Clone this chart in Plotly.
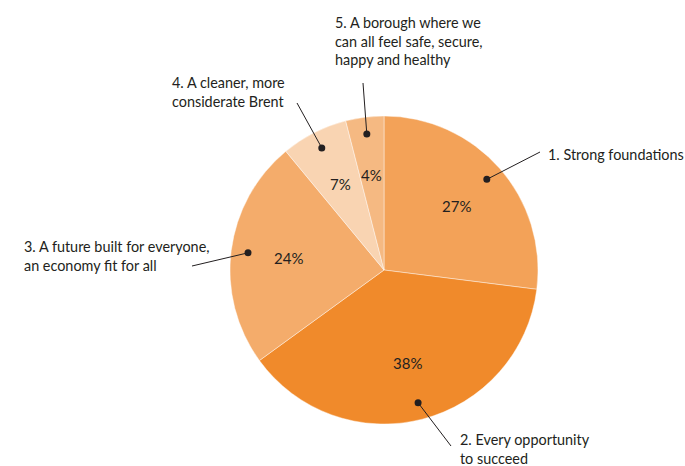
import math
import plotly.graph_objects as go

labels = [
    "1. Strong foundations",
    "2. Every opportunity<br>to succeed",
    "3. A future built for everyone,<br>an economy fit for all",
    "4. A cleaner, more<br>considerate Brent",
    "5. A borough where we<br>can all feel safe, secure,<br>happy and healthy",
]
values = [27, 38, 24, 7, 4]
colors = ["#F3A258", "#F08A2B", "#F4AC6B", "#F9D4B2", "#F5B982"]

W, H = 685, 466
CX, CY, R = 384, 270, 154
FONT = "Lato"

fig = go.Figure(go.Pie(
    values=values,
    labels=[l.replace("<br>", " ") for l in labels],
    sort=False,
    direction="clockwise",
    rotation=0,
    marker=dict(colors=colors, line=dict(color="rgba(255,255,255,0.6)", width=0.7)),
    textinfo="none",
    domain=dict(x=[(CX - R) / W, (CX + R) / W], y=[(H - CY - R) / H, (H - CY + R) / H]),
    showlegend=False,
    hoverinfo="skip",
))

# label text anchors (pixel, left edge, vertical center) and leader line start points
label_pos = [(546, 155), (458, 449), (22, 256), (170, 92), (333, 41)]
line_start = [(540, 152), (451, 446), (192, 266), (297, 103), (363, 83)]

def px(x):
    return x / W

def py(y):
    return 1 - y / H

shapes = []
annotations = []
total = sum(values)
cum = 0
for i, v in enumerate(values):
    mid = (cum + v / 2) / total * 2 * math.pi
    cum += v
    # dot on leader line
    dx = CX + 0.89 * R * math.sin(mid)
    dy = CY - 0.89 * R * math.cos(mid)
    sx, sy = line_start[i]
    shapes.append(dict(type="line", xref="paper", yref="paper",
                       x0=px(sx), y0=py(sy), x1=px(dx), y1=py(dy),
                       line=dict(color="#231F20", width=1)))
    rr = 3.5
    shapes.append(dict(type="circle", xref="paper", yref="paper",
                       x0=px(dx - rr), x1=px(dx + rr), y0=py(dy + rr), y1=py(dy - rr),
                       fillcolor="#231F20", line=dict(width=0)))
    # percentage text inside slice
    tx = CX + 0.625 * R * math.sin(mid)
    ty = CY - 0.625 * R * math.cos(mid)
    annotations.append(dict(text=f"{v}%", x=px(tx), y=py(ty), xref="paper", yref="paper",
                            xanchor="center", yanchor="middle", showarrow=False,
                            font=dict(family=FONT, size=15, color="#231F20")))
    lx, ly = label_pos[i]
    annotations.append(dict(text=labels[i], x=px(lx), y=py(ly), xref="paper", yref="paper",
                            xanchor="left", yanchor="middle", align="left", showarrow=False,
                            font=dict(family=FONT, size=14.4, color="#231F20")))

fig.update_layout(
    width=W, height=H,
    margin=dict(l=0, r=0, t=0, b=0),
    paper_bgcolor="white",
    plot_bgcolor="white",
    shapes=shapes,
    annotations=annotations,
)

fig.write_html("out.html")
